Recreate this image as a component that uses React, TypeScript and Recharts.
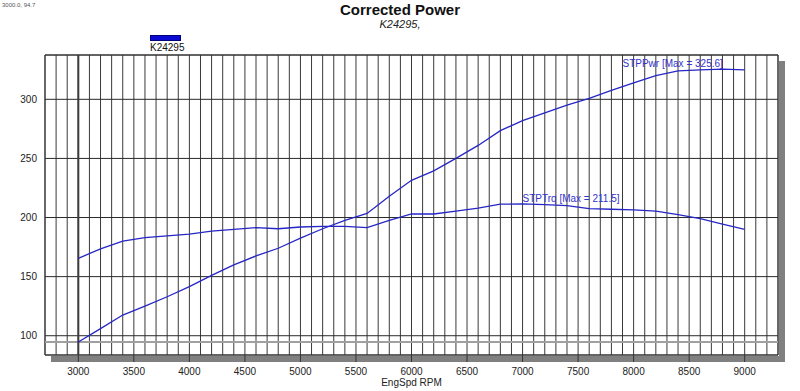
import React from 'react';
import {
  LineChart,
  Line,
  XAxis,
  YAxis,
  CartesianGrid,
  ReferenceLine,
  ReferenceArea,
  ReferenceDot,
} from 'recharts';

// Engine speed (RPM)
const rpm = [
  3000, 3200, 3400, 3600, 3800, 4000, 4200, 4400, 4600, 4800, 5000,
  5200, 5400, 5600, 5800, 6000, 6200, 6400, 6600, 6800, 7000,
  7200, 7400, 7600, 7800, 8000, 8200, 8400, 8600, 8800, 9000,
];
// STPPwr
const stpPwr = [
  94.7, 106, 117.5, 125, 133, 141.5, 151, 160, 167.5, 174, 182.5,
  190.5, 197.5, 203.5, 218, 231.5, 239.5, 250, 261, 273.5, 282,
  288.5, 295, 300.8, 307.5, 314, 320, 324, 325, 325.6, 325,
];
// STPTrq
const stpTrq = [
  165.5, 173.5, 180, 183, 184.5, 186, 188.5, 190, 191.5, 190.5, 192,
  192.5, 192.5, 191.5, 197.5, 203, 203, 205.5, 208, 211.3, 211.5,
  211, 210, 207.5, 207, 206.5, 205.5, 202.5, 199, 194.5, 190,
];

const xTicks = [3000, 3500, 4000, 4500, 5000, 5500, 6000, 6500, 7000, 7500, 8000, 8500, 9000];
const yTicks = [100, 150, 200, 250, 300];
const yMinorTicks = [90, 100, 110, 120, 130, 140, 150, 160, 170, 180, 190, 200, 210, 220, 230, 240, 250, 260, 270, 280, 290, 300, 310, 320, 330];
const xGridTicks = Array.from({ length: 67 }, (_, i) => 2700 + i * 100);

const xDomain: [number, number] = [2700, 9300];
const yDomain: [number, number] = [83.7, 337.5];

const cursorRpm = 3000;
const cursorVal = 94.7;

const pwrLabel = { x: 7900, y: 330.7, text: 'STPPwr [Max = 325.6]' };
const trqLabel = { x: 7000, y: 215.8, text: 'STPTrq [Max = 211.5]' };

const data = rpm.map((r, i) => ({ rpm: r, pwr: stpPwr[i], trq: stpTrq[i] }));

const FONT = "'Liberation Sans', Arial, sans-serif";
const LINE = '#2626c6';

export default function App() {
  return (
    <div style={{ position: 'absolute', left: 0, top: 0, width: 800, height: 391, background: '#fff', fontFamily: FONT }}>
      <div style={{ position: 'absolute', left: 2, top: 2, fontSize: 6, lineHeight: '6px', color: '#555' }}>3000.0, 94.7</div>
      <div style={{ position: 'absolute', left: 0, top: 2, width: 800, textAlign: 'center', fontWeight: 'bold', fontSize: 15, lineHeight: '15px', color: '#111' }}>
        Corrected Power
      </div>
      <div style={{ position: 'absolute', left: 0, top: 18, width: 800, textAlign: 'center', fontStyle: 'italic', fontSize: 11, lineHeight: '12px', color: '#222' }}>
        K24295,
      </div>
      <div style={{ position: 'absolute', left: 150, top: 35, width: 31, height: 6, background: '#0a0ad2', border: '1px solid #00007a', boxSizing: 'border-box' }} />
      <div style={{ position: 'absolute', left: 150, top: 43, fontSize: 10, lineHeight: '10px', color: '#111' }}>K24295</div>
      {/* drop shadow of plot frame */}
      <div style={{ position: 'absolute', left: 779, top: 61, width: 6, height: 301, background: '#808080' }} />
      <div style={{ position: 'absolute', left: 51, top: 356, width: 734, height: 6, background: '#808080' }} />
      <div style={{ position: 'absolute', left: 0, top: 0 }}>
        <LineChart
          width={800}
          height={391}
          data={data}
          margin={{ top: 55, right: 22, bottom: 14, left: 5 }}
          style={{ fontFamily: FONT }}
        >
          <XAxis xAxisId="grid" type="number" dataKey="rpm" domain={xDomain} ticks={xGridTicks} interval={0} allowDataOverflow hide />
          <CartesianGrid xAxisId="grid" horizontal={false} stroke="#3a3a3a" strokeWidth={1} />
          <CartesianGrid vertical={false} stroke="#2a2a2a" strokeWidth={1} />
          <XAxis
            type="number"
            dataKey="rpm"
            domain={xDomain}
            ticks={xTicks}
            interval={0}
            allowDataOverflow
            axisLine={false}
            tickLine={{ stroke: '#333' }}
            tickSize={7}
            tickMargin={6}
            height={22}
            tick={{ fontSize: 10, fill: '#222' }}
            label={{ value: 'EngSpd RPM', position: 'bottom', offset: 2, fontSize: 10, fill: '#222' }}
          />
          <YAxis
            type="number"
            domain={yDomain}
            ticks={yTicks}
            interval={0}
            allowDataOverflow
            axisLine={false}
            tickLine={false}
            tickSize={6}
            tickMargin={2}
            width={40}
            tick={{ fontSize: 10, fill: '#222' }}
          />
          <YAxis
            yAxisId="minor"
            type="number"
            domain={yDomain}
            ticks={yMinorTicks}
            interval={0}
            allowDataOverflow
            mirror
            width={0}
            axisLine={false}
            tick={false}
            tickLine={{ stroke: '#555' }}
            tickSize={4}
          />
          <ReferenceArea x1={xDomain[0]} x2={xDomain[1]} y1={yDomain[0]} y2={yDomain[1]} fill="none" stroke="#333" strokeWidth={1} />
          <ReferenceLine y={cursorVal} stroke="#a0a0a0" strokeWidth={2} />
          <ReferenceLine x={cursorRpm} stroke="#3c3c3c" strokeWidth={2} />
          <Line type="linear" dataKey="pwr" stroke={LINE} strokeWidth={1.3} dot={false} isAnimationActive={false} />
          <Line type="linear" dataKey="trq" stroke={LINE} strokeWidth={1.3} dot={false} isAnimationActive={false} />
          <ReferenceDot
            x={pwrLabel.x}
            y={pwrLabel.y}
            r={0}
            fill="none"
            stroke="none"
            label={{ value: pwrLabel.text, position: 'right', offset: 0, fontSize: 10, fill: '#3434cc' }}
          />
          <ReferenceDot
            x={trqLabel.x}
            y={trqLabel.y}
            r={0}
            fill="none"
            stroke="none"
            label={{ value: trqLabel.text, position: 'right', offset: 0, fontSize: 10, fill: '#3434cc' }}
          />
        </LineChart>
      </div>
    </div>
  );
}
